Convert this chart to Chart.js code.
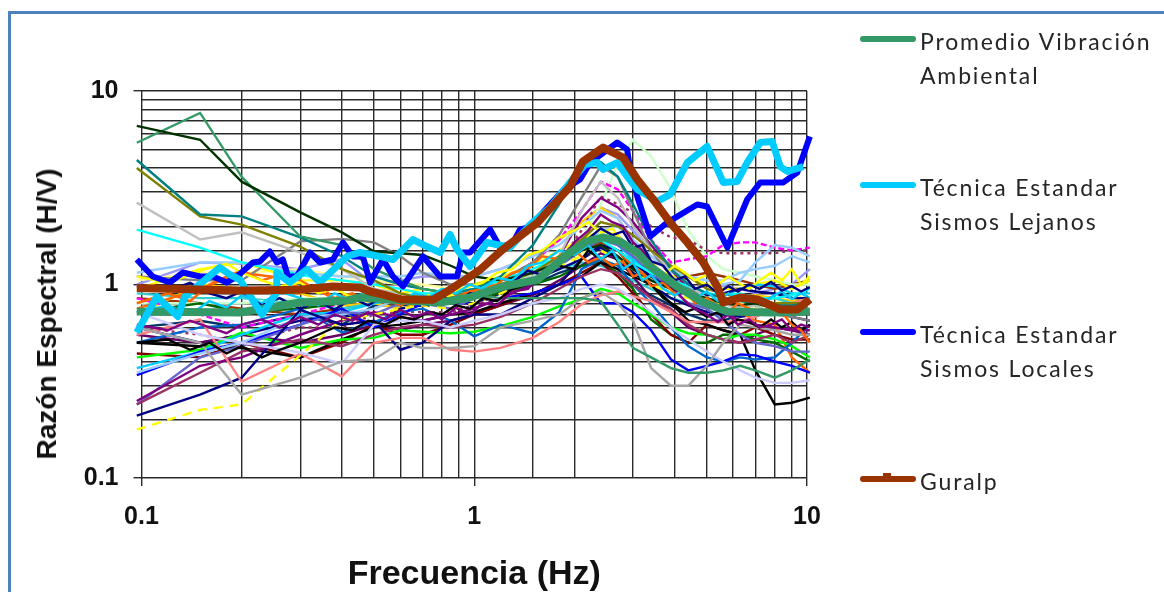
<!DOCTYPE html>
<html>
<head>
<meta charset="utf-8">
<script src="https://cdn.jsdelivr.net/npm/chart.js@4"></script>
<style>
    html, body { margin: 0; padding: 0; background: #fff; overflow: hidden; }
    #page { position: relative; width: 1164px; height: 592px; overflow: hidden; }
    #frame { position: absolute; left: 8px; top: 11px; width: 1300px; height: 800px; border: 3px solid #4f81bd; }
    #plot { position: absolute; left: 0; top: 0; filter: blur(0.4px); }
    #ytitle { position: absolute; left: 47px; top: 314px; transform: translate(-50%, -50%) rotate(-90deg); font: bold 28px "Liberation Sans", sans-serif; color: #111; white-space: nowrap; filter: blur(0.3px); }
    #legend { filter: blur(0.3px); }
    .entry { position: absolute; left: 860px; font: 23px/34px Lato, sans-serif; letter-spacing: 1.85px; color: #262626; white-space: pre; }
    .entry i { position: absolute; left: 0; top: 12px; width: 56px; height: 6px; border-radius: 3px; }
    .entry b { position: absolute; left: 23px; top: 9px; width: 8px; height: 4px; }
    .entry span { display: block; margin-left: 60px; }
</style>
</head>
<body>
<div id="page">
    <div id="frame"></div>
    <canvas id="plot" width="1164" height="592"></canvas>
    <div id="ytitle">Razón Espectral (H/V)</div>
    <div id="legend"></div>
</div>
<script>
// thick curves
const promedioFreq = [0.0968, 0.1975, 0.299, 0.4145, 0.4535, 0.6, 0.789, 0.971, 1.22, 1.55, 1.94, 2.18, 2.44, 2.74, 3.09, 3.38, 4.07, 4.88, 5.76, 7.75, 10.2];
const promedioVals = [0.725, 0.717, 0.807, 0.827, 0.857, 0.83, 0.807, 0.857, 0.977, 1.06, 1.46, 1.67, 1.75, 1.67, 1.46, 1.24, 0.977, 0.807, 0.725, 0.717, 0.725];

const lejanosFreq = [0.0968, 0.1112, 0.1286, 0.135, 0.172, 0.1843, 0.1975, 0.23, 0.255, 0.255, 0.279, 0.314, 0.344, 0.4145, 0.4535, 0.521, 0.57, 0.6545, 0.721, 0.789, 0.846, 0.888, 0.951, 0.971, 1.093, 1.282, 1.472, 1.69, 1.94, 2.153, 2.34, 2.44, 2.69, 2.88, 3.09, 3.55, 3.88, 4.37, 5.01, 5.6, 6.17, 6.61, 7.24, 7.86, 8.31, 8.73, 9.74];
const lejanosVals = [0.565, 0.867, 0.683, 0.867, 1.224, 1.126, 1.06, 0.7, 0.909, 1.153, 1.024, 1.195, 1.024, 1.396, 1.464, 1.396, 1.347, 1.708, 1.571, 1.464, 1.813, 1.517, 1.299, 1.239, 1.648, 1.553, 2.04, 2.5, 3.37, 4.17, 4.27, 3.93, 4.27, 3.62, 3.1, 2.69, 2.92, 4.27, 5.17, 3.37, 3.41, 4.27, 5.42, 5.48, 4.07, 3.84, 4.07];

const localesFreq = [0.0968, 0.1081, 0.1216, 0.1331, 0.15, 0.1638, 0.1805, 0.1935, 0.2161, 0.2269, 0.243, 0.255, 0.266, 0.2754, 0.2931, 0.3208, 0.344, 0.376, 0.4031, 0.432, 0.4629, 0.486, 0.5317, 0.57, 0.6108, 0.7015, 0.789, 0.888, 0.925, 0.971, 1.116, 1.196, 1.308, 1.373, 1.472, 1.69, 1.86, 2.08, 2.23, 2.69, 2.88, 2.94, 3.09, 3.38, 3.8, 4.68, 5.01, 5.76, 6.61, 7.24, 8.49, 9.35, 10.2];
const localesVals = [1.347, 1.1, 1.024, 1.153, 1.1, 1.1, 1.024, 1.1, 1.299, 1.315, 1.481, 1.299, 1.347, 1.1, 1.1, 1.464, 1.299, 1.347, 1.648, 1.396, 1.396, 1.024, 1.347, 1.1, 0.977, 1.396, 1.1, 1.1, 1.464, 1.464, 1.924, 1.553, 1.648, 1.924, 1.994, 2.59, 3.1, 3.49, 4.27, 5.42, 4.99, 3.93, 2.85, 1.77, 2.09, 2.59, 2.53, 1.553, 2.75, 3.37, 3.37, 3.79, 5.82];

const guralpFreq = [0.0968, 0.198, 0.299, 0.376, 0.453, 0.486, 0.53, 0.598, 0.752, 0.846, 0.971, 1.04, 1.22, 1.55, 1.94, 2.12, 2.44, 2.8, 3.09, 3.45, 3.88, 4.37, 4.88, 5.37, 5.6, 6.3, 7.09, 8.31, 9.35, 10.2];
const guralpVals = [0.96, 0.93, 0.94, 0.977, 0.965, 0.92, 0.888, 0.84, 0.835, 0.94, 1.1, 1.19, 1.52, 2.09, 3.21, 4.32, 5.1, 4.53, 3.49, 2.75, 2.09, 1.65, 1.3, 0.977, 0.807, 0.857, 0.837, 0.743, 0.743, 0.837];

// thin station curves, all read at the same frequencies
const thinFreq = [0.0968, 0.15, 0.2, 0.3, 0.4, 0.5, 0.6, 0.7, 0.85, 1, 1.2, 1.5, 1.8, 2.1, 2.4, 2.7, 3, 3.4, 3.9, 4.4, 5, 5.6, 6.3, 7, 8, 9, 10.2];
const s01 = [6.6, 5.6, 3.4, 2.36, 1.86, 1.48, 1.45, 1.42, 1.25, 1.1, 1.05, 1.15, 1.3, 1.5, 1.6, 1.4, 1.2, 1.05, 0.95, 0.9, 0.85, 0.8, 0.78, 0.8, 0.75, 0.72, 0.7];
const s02 = [5.4, 7.7, 3.6, 1.77, 1.6, 1.2, 1.05, 0.95, 0.9, 0.88, 0.85, 0.85, 0.85, 0.85, 0.82, 0.62, 0.47, 0.42, 0.37, 0.35, 0.35, 0.36, 0.38, 0.36, 0.33, 0.36, 0.41];
const s03 = [4.4, 2.3, 2.25, 1.75, 1.4, 1.1, 1, 0.95, 0.9, 0.95, 1.1, 1.6, 2.6, 4.2, 4.3, 3.6, 2.6, 1.7, 1.2, 1, 0.9, 0.85, 0.82, 0.8, 0.78, 0.78, 0.8];
const s04 = [4, 2.25, 2.04, 1.57, 1.2, 1.05, 0.9, 0.85, 0.85, 0.9, 1, 1.15, 1.4, 1.7, 2.1, 2, 1.8, 1.5, 1.25, 1.1, 0.95, 0.9, 0.85, 0.82, 0.8, 0.8, 0.8];
const s05 = [2.65, 1.71, 1.86, 1.46, 1.2, 0.95, 0.9, 0.85, 0.8, 0.85, 0.95, 1.1, 1.4, 2.4, 3.4, 2.8, 2, 1.5, 1.2, 1, 0.85, 0.8, 0.75, 0.78, 0.7, 0.72, 0.72];
const s06 = [1.92, 1.55, 1.3, 1.12, 1.05, 1, 0.95, 0.9, 0.9, 0.95, 1.05, 1.2, 1.4, 1.6, 1.7, 1.5, 1.3, 1.15, 1.05, 0.98, 0.9, 0.88, 0.9, 0.85, 0.85, 0.88, 0.95];
const s07 = [1.1, 1.05, 1.05, 1.67, 1.72, 1.65, 1.4, 1.15, 1, 1, 1.05, 1.3, 1.8, 2.8, 4.1, 3.6, 2.4, 1.5, 1.1, 0.95, 0.85, 0.8, 0.75, 0.72, 0.7, 0.68, 0.65];
const s08 = [0.6, 0.5, 0.27, 0.33, 0.4, 0.41, 0.5, 0.47, 0.47, 0.48, 0.6, 0.65, 0.7, 0.85, 0.92, 0.8, 0.65, 0.37, 0.3, 0.3, 0.38, 0.5, 0.62, 0.6, 0.58, 0.55, 0.55];
const s09 = [1.15, 1.3, 1.3, 1.15, 1.1, 1.1, 1.1, 1.15, 1.1, 1.1, 1.2, 1.4, 1.6, 2, 2.4, 2.2, 1.7, 1.4, 1.2, 1.1, 1.05, 1.05, 1.15, 1.2, 1.25, 1.4, 1.3];
const s10 = [0.72, 0.55, 0.5, 0.445, 0.39, 0.62, 0.65, 0.65, 0.6, 0.65, 0.7, 0.8, 0.85, 0.95, 1, 0.95, 0.85, 0.72, 0.6, 0.52, 0.45, 0.4, 0.36, 0.33, 0.31, 0.31, 0.32];
const s11 = [0.55, 0.66, 0.315, 0.44, 0.335, 0.5, 0.53, 0.53, 0.46, 0.45, 0.47, 0.53, 0.64, 0.79, 0.88, 0.92, 0.87, 0.82, 0.72, 0.64, 0.64, 0.64, 0.65, 0.68, 0.75, 0.8, 0.85];
const s12 = [0.21, 0.27, 0.33, 0.74, 0.62, 0.65, 0.46, 0.5, 0.65, 0.7, 0.7, 0.85, 1, 1.35, 1.6, 1.5, 1.3, 1.1, 0.95, 0.9, 0.88, 0.9, 0.95, 0.92, 0.9, 0.85, 0.85];
const s13 = [0.178, 0.225, 0.24, 0.43, 0.66, 0.7, 0.75, 0.78, 0.75, 0.8, 0.9, 1.05, 1.25, 1.4, 1.5, 1.35, 1.2, 1, 0.9, 0.85, 0.8, 0.8, 0.75, 0.72, 0.7, 0.72, 0.7];
const s14 = [0.25, 0.38, 0.42, 0.55, 0.65, 0.72, 0.68, 0.65, 0.7, 0.75, 0.85, 1, 1.4, 2.2, 2.8, 2.5, 2.1, 1.6, 1.2, 0.95, 0.8, 0.72, 0.65, 0.62, 0.6, 0.58, 0.58];
const s15 = [0.24, 0.35, 0.45, 0.52, 0.48, 0.55, 0.6, 0.62, 0.6, 0.62, 0.68, 0.8, 0.95, 1.1, 1.2, 1.15, 1, 0.85, 0.75, 0.62, 0.55, 0.52, 0.5, 0.52, 0.55, 0.5, 0.55];
const s16 = [0.24, 0.42, 0.48, 0.62, 0.72, 0.7, 0.8, 0.8, 0.75, 0.85, 0.95, 1.05, 1.25, 1.5, 1.7, 1.6, 1.4, 1.15, 0.95, 0.8, 0.75, 0.65, 0.55, 0.5, 0.48, 0.45, 0.45];
const s17 = [0.35, 0.44, 0.5, 0.68, 0.7, 0.75, 0.85, 0.85, 0.85, 0.9, 1, 1.15, 1.35, 1.6, 1.9, 2, 1.7, 1.4, 1.15, 1.1, 1.05, 1, 1.05, 1.3, 1.6, 1.55, 1.4];
const s18 = [0.34, 0.45, 0.5, 0.62, 0.75, 0.6, 0.7, 0.8, 0.95, 0.75, 0.85, 0.9, 1, 1.1, 0.8, 0.8, 0.72, 0.58, 0.41, 0.36, 0.38, 0.4, 0.435, 0.43, 0.4, 0.38, 0.35];
const s19 = [0.37, 0.45, 0.55, 0.7, 0.72, 0.8, 0.85, 0.82, 0.9, 0.95, 1.05, 1.15, 1.3, 1.5, 1.8, 1.6, 1.35, 1.15, 1, 0.95, 0.9, 0.88, 0.95, 1, 0.98, 0.9, 0.9];
const s20 = [0.5, 0.6, 0.62, 0.75, 0.565, 0.64, 0.72, 0.75, 0.65, 0.54, 0.62, 0.56, 0.72, 1.2, 1.35, 1.25, 1, 0.8, 0.6, 0.48, 0.42, 0.4, 0.42, 0.41, 0.42, 0.5, 0.62];
const s21 = [0.42, 0.46, 0.565, 0.47, 0.52, 0.53, 0.58, 0.57, 0.56, 0.57, 0.61, 0.68, 0.77, 0.84, 0.95, 0.9, 0.8, 0.7, 0.6, 0.56, 0.55, 0.52, 0.55, 0.55, 0.52, 0.48, 0.42];
const s22 = [0.5, 0.48, 0.47, 0.42, 0.52, 0.6, 0.62, 0.65, 0.7, 0.72, 0.8, 0.9, 1, 1.1, 1.3, 1.2, 1.1, 1, 0.8, 0.65, 0.62, 0.58, 0.55, 0.36, 0.24, 0.245, 0.26];
const s23 = [0.44, 0.42, 0.5, 0.42, 0.5, 0.62, 0.55, 0.55, 0.62, 0.7, 0.78, 0.9, 1, 1.15, 1.3, 1.1, 0.9, 0.7, 0.55, 0.5, 0.62, 0.58, 0.55, 0.6, 0.55, 0.52, 0.52];
const s24 = [0.72, 0.8, 0.72, 0.75, 0.8, 0.85, 0.85, 0.85, 0.8, 0.85, 0.9, 1, 1.1, 1.25, 1.3, 1.15, 0.95, 0.66, 0.55, 0.5, 0.5, 0.55, 0.55, 0.52, 0.5, 0.45, 0.4];
const s25 = [0.75, 0.95, 1.15, 1.05, 0.8, 0.85, 0.85, 0.85, 0.85, 0.95, 1, 1.05, 1.3, 1.5, 1.6, 1.5, 1.25, 1.05, 0.95, 0.9, 0.85, 0.75, 0.72, 0.65, 0.62, 0.42, 0.35];
const s26 = [0.95, 1.2, 1.3, 1.05, 1.05, 1, 0.9, 0.95, 0.9, 1, 1.1, 1.25, 1.5, 1.7, 1.9, 1.8, 1.45, 1.25, 1.1, 1.1, 1, 0.95, 0.95, 1, 1.05, 0.95, 1.05];
const s27 = [0.85, 0.7, 0.6, 0.7, 0.8, 0.85, 0.85, 0.85, 0.9, 0.95, 1.05, 1.3, 1.7, 2.4, 3.4, 3.1, 2.4, 1.7, 1.3, 1.35, 1.4, 1.6, 1.65, 1.65, 1.55, 1.5, 1.55];
const s28 = [0.6, 0.55, 0.5, 0.6, 0.6, 0.7, 0.72, 0.72, 0.72, 0.78, 0.9, 1.05, 1.3, 1.9, 2.85, 2.6, 2.35, 2, 1.75, 1.7, 1.5, 1.45, 1.45, 1.45, 1.45, 1.5, 1.5];
const s29 = [0.8, 0.8, 0.8, 0.85, 0.85, 0.9, 0.9, 0.9, 0.9, 0.95, 1, 1.1, 1.3, 1.7, 2.6, 4.2, 5.6, 4.6, 3.1, 1.9, 1.4, 1.2, 1.15, 1.1, 1.05, 1, 1];
const s30 = [0.55, 0.5, 0.55, 0.5, 0.55, 0.62, 0.58, 0.62, 0.65, 0.7, 0.78, 0.88, 1.05, 1.25, 1.45, 1.35, 1.1, 0.85, 0.72, 0.6, 0.55, 0.52, 0.5, 0.55, 0.6, 0.58, 0.55];
const s31 = [0.6, 0.5, 0.55, 0.65, 0.7, 0.62, 0.75, 0.78, 0.8, 0.8, 0.9, 1.05, 1.2, 1.35, 1.55, 1.35, 1.15, 1, 0.85, 0.78, 0.72, 0.7, 0.68, 0.7, 0.72, 0.68, 0.65];
const s32 = [0.9, 0.85, 0.85, 0.8, 0.75, 0.8, 0.85, 0.9, 0.85, 0.9, 1, 1.1, 1.2, 1.3, 1.25, 1.15, 1.05, 0.95, 0.85, 0.8, 0.75, 0.8, 0.85, 0.82, 0.85, 0.8, 0.82];
const s33 = [0.7, 1, 0.95, 0.9, 0.78, 0.8, 0.75, 0.8, 0.85, 0.95, 1.05, 1.3, 1.7, 2.1, 2.5, 2.2, 1.7, 1.3, 1.05, 0.95, 0.9, 0.85, 0.85, 0.88, 0.85, 0.82, 0.85];
const s34 = [0.85, 0.8, 0.75, 0.7, 0.75, 0.8, 0.8, 0.78, 0.82, 0.88, 0.95, 1.1, 1.25, 1.5, 1.65, 1.5, 1.2, 1.1, 0.95, 1.1, 1.15, 1.1, 1.05, 1, 0.95, 1, 1.05];
const s35 = [1.05, 1.15, 1.15, 1.2, 1.1, 1.05, 1, 1, 0.95, 1, 1.05, 1.15, 1.3, 1.45, 1.6, 1.5, 1.3, 1.15, 1, 0.95, 0.88, 0.85, 0.8, 0.75, 0.8, 0.85, 0.9];
const s36 = [0.6, 0.65, 0.6, 0.7, 0.62, 0.78, 0.78, 0.8, 0.85, 0.85, 0.92, 1, 1.15, 1.25, 1.35, 1.2, 1, 0.88, 0.78, 0.7, 0.65, 0.65, 0.7, 0.75, 0.72, 0.7, 0.72];
const s37 = [1, 1.3, 1.28, 1.2, 1.35, 1, 1.05, 1.1, 1.1, 1.1, 1.2, 1.4, 1.7, 2.1, 2.5, 2.3, 1.9, 1.5, 1.25, 1.1, 1, 0.98, 0.95, 0.9, 0.95, 1, 1.2];

// more jagged stations in the dense band, read at a finer step
const jagFreq = [0.0968, 0.12, 0.14, 0.16, 0.18, 0.2, 0.23, 0.26, 0.3, 0.34, 0.38, 0.43, 0.48, 0.54, 0.6, 0.66, 0.73, 0.8, 0.88, 0.97, 1.06, 1.17, 1.3, 1.45, 1.6, 1.8, 2, 2.2, 2.4, 2.6, 2.8, 3, 3.2, 3.4, 3.7, 4, 4.3, 4.6, 5, 5.4, 5.8, 6.2, 6.7, 7.2, 7.8, 8.4, 9, 9.6, 10.2];
const j1 = [0.98, 0.93, 1.02, 0.9, 0.85, 0.92, 0.78, 0.85, 0.75, 0.82, 0.74, 0.85, 0.78, 0.88, 0.8, 0.84, 0.78, 0.86, 0.82, 0.9, 0.88, 0.98, 1.02, 1.18, 1.12, 1.35, 1.5, 1.72, 1.95, 1.8, 1.88, 1.55, 1.6, 1.32, 1.25, 1.05, 1.1, 0.95, 1, 0.9, 0.98, 0.92, 1, 0.95, 1.03, 0.93, 0.98, 0.92, 0.97];
const j2 = [0.72, 0.78, 0.7, 0.82, 0.76, 0.88, 0.8, 0.92, 0.85, 0.78, 0.9, 0.82, 0.95, 0.88, 0.8, 0.9, 0.86, 0.95, 0.9, 1, 0.95, 1.08, 1.05, 1.25, 1.3, 1.5, 1.42, 1.6, 1.35, 1.5, 1.2, 1.3, 1.05, 1.12, 0.95, 0.88, 0.95, 0.85, 0.92, 0.82, 0.9, 0.84, 0.88, 0.8, 0.86, 0.92, 0.84, 0.9, 0.85];
const j3 = [1.1, 1.02, 1.12, 1.22, 1.28, 1.15, 1.05, 0.98, 1.02, 0.9, 0.96, 0.85, 0.9, 0.82, 0.86, 0.8, 0.88, 0.82, 0.92, 0.98, 1.02, 1.15, 1.2, 1.42, 1.5, 1.75, 1.9, 2.1, 1.85, 1.95, 1.6, 1.5, 1.3, 1.2, 1.12, 1.25, 1.15, 1.05, 1.12, 1, 1.1, 1.02, 0.95, 1.05, 1.15, 1.05, 1.2, 1, 1.1];
const j4 = [0.62, 0.58, 0.65, 0.6, 0.56, 0.62, 0.66, 0.6, 0.68, 0.62, 0.7, 0.65, 0.72, 0.66, 0.74, 0.68, 0.72, 0.66, 0.76, 0.7, 0.8, 0.78, 0.92, 0.95, 1.15, 1.3, 1.65, 1.9, 2.3, 2.1, 2, 1.65, 1.5, 1.3, 1.05, 0.95, 0.82, 0.75, 0.7, 0.64, 0.7, 0.62, 0.66, 0.6, 0.62, 0.66, 0.58, 0.62, 0.6];
const j5 = [0.8, 0.9, 0.82, 1, 1.1, 1.18, 1.05, 1.12, 0.95, 1, 0.85, 0.9, 0.82, 0.85, 0.78, 0.84, 0.8, 0.88, 0.85, 0.92, 0.95, 1, 1.15, 1.2, 1.4, 1.35, 1.5, 1.3, 1.38, 1.25, 1.32, 1.1, 1.15, 0.98, 1.02, 0.9, 0.95, 0.8, 0.85, 0.78, 0.72, 0.8, 0.75, 0.7, 0.78, 0.72, 0.62, 0.58, 0.5];
const j6 = [0.5, 0.52, 0.46, 0.5, 0.44, 0.48, 0.42, 0.46, 0.5, 0.55, 0.6, 0.58, 0.65, 0.62, 0.68, 0.66, 0.72, 0.7, 0.78, 0.75, 0.85, 0.82, 0.95, 1, 1.1, 1.25, 1.2, 1.5, 1.35, 1.45, 1.2, 1.25, 1.05, 1, 0.85, 0.78, 0.72, 0.75, 0.68, 0.72, 0.62, 0.66, 0.64, 0.6, 0.66, 0.6, 0.64, 0.58, 0.62];

const thinSeries = [s01, s02, s03, s04, s05, s06, s07, s08, s09, s10, s11, s12, s13, s14, s15, s16, s17, s18, s19, s20, s21, s22, s23, s24, s25, s26, s27, s28, s29, s30, s31, s32, s33, s34, s35, s36, s37];
const thinColors = ['#003300', '#339966', '#008080', '#808000', '#c0c0c0', '#00ffff', '#808080', '#a6a6a6', '#99ccff', '#ccccff', '#ff8080', '#000080', '#ffff00', '#800080', '#993366', '#6666cc', '#99ccff', '#0000ff', '#00ccff', '#0066cc', '#00ff00', '#000000', '#800000', '#006600', '#ff6600', '#ffff00', '#ff00ff', '#993366', '#ccffcc', '#660066', '#000080', '#33cccc', '#ffcc00', '#993300', '#ffff99', '#003366', '#9999ff'];
const dashedSeries = { 12: [9, 7], 26: [6, 3], 27: [3, 4] };
const jagSeries = [j1, j2, j3, j4, j5, j6];
const jagColors = ['#000080', '#00ccff', '#ffff00', '#800080', '#ff6600', '#000000'];

const tickLabels = [0.1, 1, 10];
const legendLabels = ['Promedio Vibración\nAmbiental', 'Técnica Estandar\nSismos Lejanos', 'Técnica Estandar\nSismos Locales', 'Guralp'];
const legendColors = ['#339966', '#00ccff', '#0000ff', '#993300'];
const legendTops = [24, 170, 317, 464];

const toPoints = (xs, ys) => xs.map((x, i) => ({ x: x, y: ys[i] }));
const isLabelled = v => tickLabels.some(t => Math.abs(t - v) < 1e-6);
const labelFor = v => isLabelled(v) ? String(tickLabels.find(t => Math.abs(t - v) < 1e-6)) : '';

let thick = (label, xs, ys, color, width) => ({
    label: label,
    data: toPoints(xs, ys),
    borderColor: color,
    borderWidth: width,
    borderJoinStyle: 'round',
    clip: false
});

let thin = thinSeries.map((values, i) => ({
    label: 'Estación ' + (i + 1),
    data: toPoints(thinFreq, values),
    borderColor: thinColors[i],
    borderWidth: 2.4,
    borderDash: dashedSeries[i] || [],
    clip: false
}));

let jag = jagSeries.map((values, i) => ({
    label: 'Estación ' + (i + 38),
    data: toPoints(jagFreq, values),
    borderColor: jagColors[i],
    borderWidth: 2.4,
    clip: false
}));

const axisGrid = {
    color: '#2a2a2a',
    lineWidth: 1.4,
    tickLength: 8,
    tickColor: c => isLabelled(c.tick.value) ? '#2a2a2a' : 'rgba(0,0,0,0)'
};
const tickFont = { family: '"Liberation Sans"', size: 25, weight: 'bold' };

new Chart(document.getElementById('plot'), {
    type: 'line',
    data: {
        datasets: [
            thick('Guralp', guralpFreq, guralpVals, '#993300', 8),
            thick('Técnica Estandar Sismos Lejanos', lejanosFreq, lejanosVals, '#00ccff', 7),
            thick('Técnica Estandar Sismos Locales', localesFreq, localesVals, '#0000ff', 6),
            thick('Promedio Vibración Ambiental', promedioFreq, promedioVals, '#339966', 8)
        ].concat(jag, thin)
    },
    options: {
        responsive: false,
        animation: false,
        layout: { padding: { top: 91, right: 357, left: 0, bottom: 0 } },
        elements: { point: { radius: 0 }, line: { tension: 0 } },
        plugins: { legend: { display: false }, tooltip: { enabled: false } },
        scales: {
            x: {
                type: 'logarithmic',
                min: 0.1,
                max: 10,
                grid: axisGrid,
                border: { display: false },
                afterFit: s => { s.height = 114; },
                ticks: {
                    autoSkip: false,
                    maxRotation: 0,
                    padding: 16,
                    color: '#111',
                    font: tickFont,
                    callback: labelFor
                },
                title: {
                    display: true,
                    text: 'Frecuencia (Hz)',
                    color: '#111',
                    font: { family: '"Liberation Sans"', size: 34, weight: 'bold', lineHeight: 1 },
                    padding: { top: 0, bottom: 0 }
                }
            },
            y: {
                type: 'logarithmic',
                min: 0.1,
                max: 10,
                grid: axisGrid,
                border: { display: false },
                afterFit: s => { s.width = 141.5; },
                ticks: {
                    autoSkip: false,
                    padding: 15,
                    color: '#111',
                    font: tickFont,
                    callback: labelFor
                }
            }
        }
    }
});

// legend sits to the right with wrapped labels, so it is plain html
const legendBox = document.getElementById('legend');
legendLabels.forEach((label, i) => {
    let row = document.createElement('div');
    row.className = 'entry';
    row.style.top = legendTops[i] + 'px';
    let swatch = document.createElement('i');
    swatch.style.background = legendColors[i];
    row.appendChild(swatch);
    // the Guralp line has its small marker on the key
    if (label === 'Guralp') {
        let marker = document.createElement('b');
        marker.style.background = legendColors[i];
        row.appendChild(marker);
    }
    let text = document.createElement('span');
    text.textContent = label;
    row.appendChild(text);
    legendBox.appendChild(row);
});
</script>
</body>
</html>
